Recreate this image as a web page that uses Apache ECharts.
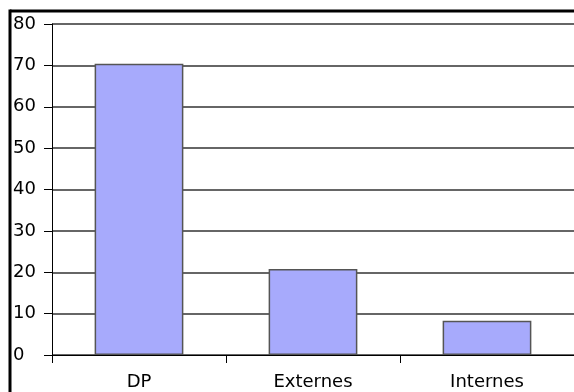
<!DOCTYPE html>
<html><head><meta charset="utf-8">
<script src="https://cdn.jsdelivr.net/npm/echarts@6/dist/echarts.min.js"></script>
<style>html,body{margin:0;padding:0;background:#fff}#c{width:574px;height:392px}</style>
</head><body><div id="c"></div>
<script>
const categories = ['DP', 'Externes', 'Internes'];
const values = [70.4, 20.8, 8.3];
const yTicks = [0, 10, 20, 30, 40, 50, 60, 70, 80];

const chart = echarts.init(document.getElementById('c'), null, {renderer: 'canvas'});
const font = 'DejaVu Sans';
chart.setOption({
  animation: false,
  backgroundColor: '#fff',
  grid: {left: 52, right: 0, top: 24, bottom: 37, containLabel: false},
  xAxis: {
    type: 'category',
    data: categories,
    boundaryGap: true,
    axisLine: {show: true, lineStyle: {color: '#000', width: 1}},
    axisTick: {show: true, length: 8, lineStyle: {color: '#000'}},
    axisLabel: {color: '#000', fontFamily: font, fontSize: 18, margin: 18},
    splitLine: {show: false}
  },
  yAxis: {
    type: 'value',
    min: yTicks[0],
    max: yTicks[yTicks.length - 1],
    interval: 10,
    axisLine: {show: true, lineStyle: {color: '#000', width: 1}},
    axisTick: {show: true, length: 8, lineStyle: {color: '#000'}},
    axisLabel: {color: '#000', fontFamily: font, fontSize: 18, align: 'left', margin: 39, padding: [4, 0, 0, 0]},
    splitLine: {show: true, lineStyle: {color: '#333', width: 1.5}}
  },
  series: [{
    type: 'bar',
    data: values,
    barWidth: '51%',
    itemStyle: {color: '#a7aafc', borderColor: '#555', borderWidth: 1.5}
  }],
  graphic: [
    {type: 'line', shape: {x1: 10, y1: 11, x2: 574, y2: 11}, style: {stroke: '#000', lineWidth: 3}, z: 100},
    {type: 'line', shape: {x1: 10, y1: 9.5, x2: 10, y2: 392}, style: {stroke: '#000', lineWidth: 3}, z: 100}
  ]
});
</script></body></html>
